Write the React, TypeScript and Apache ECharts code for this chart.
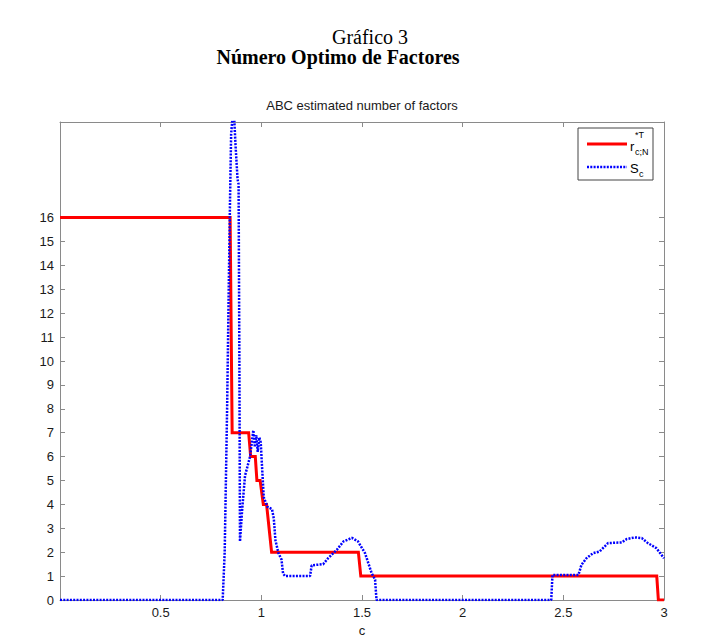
import React, { useEffect, useRef } from 'react';
import * as echarts from 'echarts';

// r*T_{c;N}: estimated number of factors (step line)
const rC = [0, 0.845, 0.855, 0.937, 0.947, 0.97, 0.978, 0.994, 1.01, 1.026, 1.051, 1.482, 1.494, 2.964, 2.972, 3];
const rVal = [16, 16, 7, 7, 6, 6, 5, 5, 4, 4, 2, 2, 1, 1, 0, 0];

// S_c: dotted line
const sC = [
  0, 0.808, 0.818, 0.83, 0.838, 0.845, 0.85, 0.857, 0.865, 0.872, 0.882, 0.887, 0.891, 0.894,
  0.905, 0.919, 0.944, 0.96, 0.968, 0.975, 0.982, 0.99, 0.997, 1.004, 1.012, 1.03, 1.053,
  1.062, 1.07, 1.085, 1.1, 1.108, 1.118, 1.242, 1.25, 1.307, 1.332, 1.375, 1.408, 1.45, 1.48,
  1.515, 1.548, 1.565, 1.572, 2.44, 2.446, 2.575, 2.59, 2.615, 2.648, 2.68, 2.722, 2.79,
  2.815, 2.855, 2.89, 2.92, 2.962, 3,
];
const sVal = [
  0, 0, 2, 8, 13, 17, 19.5, 20.2, 20.2, 19, 17.6, 17.4, 10, 2.45,
  3.8, 5.2, 6.0, 7.1, 6.4, 6.9, 6.2, 6.8, 6.6, 5.5, 4.3, 3.9, 3.8,
  3.4, 2.5, 1.96, 1.7, 1.1, 1.0, 1.0, 1.45, 1.5, 1.75, 2.1, 2.45, 2.6, 2.45,
  1.96, 1.12, 0.85, 0, 0, 1.05, 1.05, 1.47, 1.75, 1.96, 2.03, 2.38, 2.41,
  2.55, 2.62, 2.59, 2.38, 2.17, 1.75,
];

const xTickLabels = [0.5, 1, 1.5, 2, 2.5, 3];
const yTickLabels = [0, 1, 2, 3, 4, 5, 6, 7, 8, 9, 10, 11, 12, 13, 14, 15, 16];

const AXIS_GRAY = '#8a8a8a';
const SANS = '"Liberation Sans", Arial, sans-serif';
const SERIF = '"Liberation Serif", "Times New Roman", serif';

const App: React.FC = () => {
  const chartRef = useRef<HTMLDivElement>(null);

  useEffect(() => {
    document.body.style.margin = '0';
    if (!chartRef.current) return;
    const chart = echarts.init(chartRef.current, undefined, { renderer: 'svg' });

    const tickStyle = { inside: true, length: 5, lineStyle: { color: AXIS_GRAY } };
    const lineStyle = { show: true, onZero: false, lineStyle: { color: AXIS_GRAY, width: 1 } };
    const labelStyle = { color: '#1a1a1a', fontSize: 13, fontFamily: SANS };

    chart.setOption({
      animation: false,
      backgroundColor: '#fff',
      grid: { left: 60, right: 59, top: 122, bottom: 40, outerBoundsMode: 'none' },
      xAxis: [
        {
          type: 'value', min: 0, max: 3, interval: 0.5, position: 'bottom',
          axisLine: lineStyle,
          axisTick: { ...tickStyle, customValues: xTickLabels },
          axisLabel: { ...labelStyle, margin: 6, customValues: xTickLabels },
          splitLine: { show: false },
          name: 'c', nameLocation: 'middle', nameGap: 19,
          nameTextStyle: { ...labelStyle },
        },
        {
          type: 'value', min: 0, max: 3, interval: 0.5, position: 'top',
          axisLine: lineStyle,
          axisTick: { ...tickStyle, customValues: xTickLabels },
          axisLabel: { show: false },
          splitLine: { show: false },
        },
      ],
      yAxis: [
        {
          type: 'value', min: 0, max: 20, interval: 1, position: 'left',
          axisLine: lineStyle,
          axisTick: { ...tickStyle, customValues: yTickLabels },
          axisLabel: { ...labelStyle, margin: 6, customValues: yTickLabels },
          splitLine: { show: false },
        },
        {
          type: 'value', min: 0, max: 20, interval: 1, position: 'right',
          axisLine: lineStyle,
          axisTick: { ...tickStyle, customValues: yTickLabels },
          axisLabel: { show: false },
          splitLine: { show: false },
        },
      ],
      series: [
        {
          name: 'r', type: 'line', symbol: 'none', clip: true,
          data: rC.map((c, i) => [c, rVal[i]]),
          lineStyle: { color: '#ff0000', width: 3, join: 'miter' },
        },
        {
          name: 'S', type: 'line', symbol: 'none', clip: true,
          data: sC.map((c, i) => [c, sVal[i]]),
          lineStyle: { color: '#0000ff', width: 2.5, type: [2, 1.3] },
        },
      ],
      graphic: [
        { type: 'text', x: 370, y: 37, style: { text: 'Gráfico 3', font: `20px ${SERIF}`, fill: '#000', align: 'center', verticalAlign: 'middle' } },
        { type: 'text', x: 338, y: 57, style: { text: 'Número Optimo de Factores', font: `bold 20px ${SERIF}`, fill: '#000', align: 'center', verticalAlign: 'middle' } },
        { type: 'text', x: 362, y: 105, style: { text: 'ABC estimated number of factors', font: `13px ${SANS}`, fill: '#1a1a1a', align: 'center', verticalAlign: 'middle' } },
        // legend
        { type: 'rect', z: 100, shape: { x: 578, y: 128, width: 75, height: 52 }, style: { fill: '#fff', stroke: '#444', lineWidth: 1 } },
        { type: 'line', z: 101, shape: { x1: 587, y1: 144, x2: 627, y2: 144 }, style: { stroke: '#ff0000', lineWidth: 3 } },
        { type: 'line', z: 101, shape: { x1: 587, y1: 167, x2: 627, y2: 167 }, style: { stroke: '#0000ff', lineWidth: 2.5, lineDash: [2, 1.3] } },
        { type: 'text', z: 101, x: 630, y: 146, style: { text: 'r', font: `13px ${SANS}`, fill: '#000', verticalAlign: 'middle' } },
        { type: 'text', z: 101, x: 635, y: 135, style: { text: '*T', font: `9px ${SANS}`, fill: '#000', verticalAlign: 'middle' } },
        { type: 'text', z: 101, x: 635, y: 152, style: { text: 'c;N', font: `9px ${SANS}`, fill: '#000', verticalAlign: 'middle' } },
        { type: 'text', z: 101, x: 630, y: 168, style: { text: 'S', font: `13px ${SANS}`, fill: '#000', verticalAlign: 'middle' } },
        { type: 'text', z: 101, x: 639, y: 174, style: { text: 'c', font: `9px ${SANS}`, fill: '#000', verticalAlign: 'middle' } },
      ],
    });

    return () => chart.dispose();
  }, []);

  return <div ref={chartRef} style={{ width: 723, height: 640 }} />;
};

export default App;
